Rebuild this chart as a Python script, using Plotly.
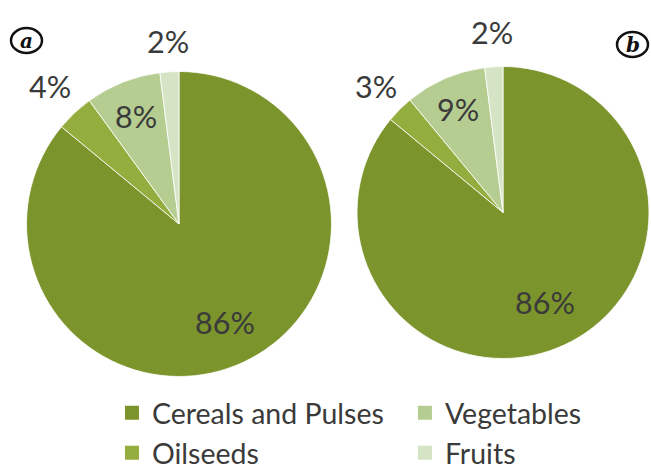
import math
import plotly.graph_objects as go

categories = ["Cereals and Pulses", "Oilseeds", "Vegetables", "Fruits"]
values_a = [86, 4, 8, 2]
values_b = [86, 3, 9, 2]
colors = ["#7C942C", "#93AE3E", "#B6CD91", "#D5E4C4"]

# label distance from pie centre, as a fraction of the radius (style only)
label_r_a = [0.71, 1.24, 0.76, 1.20]
label_r_b = [0.68, 1.23, 0.77, 1.24]

FONT = "Lato"
TXT = "#3a3a3a"
W, H = 651, 474

dom_a = dict(x=[0.0407, 0.5092], y=[0.2057, 0.8492])
dom_b = dict(x=[0.5484, 0.9969], y=[0.2437, 0.8597])

fig = go.Figure()
for vals, dom in [(values_a, dom_a), (values_b, dom_b)]:
    fig.add_trace(go.Pie(
        labels=categories, values=vals, sort=False, direction="clockwise", rotation=0,
        marker=dict(colors=colors, line=dict(color="white", width=0.8)),
        textinfo="none", domain=dom,
        showlegend=False, hoverinfo="label+percent",
    ))


def pie_labels(vals, dom, factors):
    # centre and radius in pixels, derived from the pie domain
    x0, x1 = dom["x"][0] * W, dom["x"][1] * W
    y0, y1 = dom["y"][0] * H, dom["y"][1] * H
    cx, cy = (x0 + x1) / 2, (y0 + y1) / 2
    r = min(x1 - x0, y1 - y0) / 2
    total = sum(vals)
    out = []
    cum = 0.0
    for v, f in zip(vals, factors):
        mid = (cum + v / 2) / total * 2 * math.pi  # clockwise from 12 o'clock
        cum += v
        px = cx + f * r * math.sin(mid)
        py = cy + f * r * math.cos(mid)
        out.append(dict(text=f"{v}%", x=px / W, y=py / H, xref="paper", yref="paper",
                        xanchor="center", yanchor="middle", showarrow=False,
                        font=dict(family=FONT, size=30.5, color=TXT)))
    return out


annotations = pie_labels(values_a, dom_a, label_r_a) + pie_labels(values_b, dom_b, label_r_b)
annotations += [
    dict(text="<b><i>a</i></b>", x=26.5 / W, y=1 - 40.5 / H, xref="paper", yref="paper",
         xanchor="center", yanchor="middle", showarrow=False,
         font=dict(family="DejaVu Serif", size=20, color="#111")),
    dict(text="<b><i>b</i></b>", x=632.5 / W, y=1 - 44.5 / H, xref="paper", yref="paper",
         xanchor="center", yanchor="middle", showarrow=False,
         font=dict(family="DejaVu Serif", size=20, color="#111")),
]

# legend entries (two columns)
legend_of = {"Cereals and Pulses": "legend", "Oilseeds": "legend",
             "Vegetables": "legend2", "Fruits": "legend2"}
for name, col in zip(categories, colors):
    fig.add_trace(go.Scatter(
        x=[None], y=[None], mode="markers", name=name, legendgroup=name,
        marker=dict(symbol="square", size=14, color=col),
        legend=legend_of[name], showlegend=True,
    ))

leg_common = dict(font=dict(family=FONT, size=28.5, color=TXT), bgcolor="rgba(0,0,0,0)",
                  itemwidth=30, yanchor="top", xanchor="left", tracegroupgap=0)
fig.update_layout(
    width=W, height=H,
    margin=dict(l=0, r=0, t=0, b=0, autoexpand=False),
    paper_bgcolor="white", plot_bgcolor="white",
    xaxis=dict(visible=False), yaxis=dict(visible=False),
    legend=dict(x=0.172, y=0.182, **leg_common),
    legend2=dict(x=0.622, y=0.182, **leg_common),
    shapes=[
        dict(type="circle", xref="paper", yref="paper",
             x0=11 / W, x1=42 / W, y0=1 - 53 / H, y1=1 - 28 / H,
             line=dict(color="#111", width=2.5)),
        dict(type="circle", xref="paper", yref="paper",
             x0=617 / W, x1=648 / W, y0=1 - 57 / H, y1=1 - 32 / H,
             line=dict(color="#111", width=2.5)),
    ],
    annotations=annotations,
)

fig.write_html("out.html", config={"displayModeBar": False},
               post_script="document.body.style.margin='0px';")
